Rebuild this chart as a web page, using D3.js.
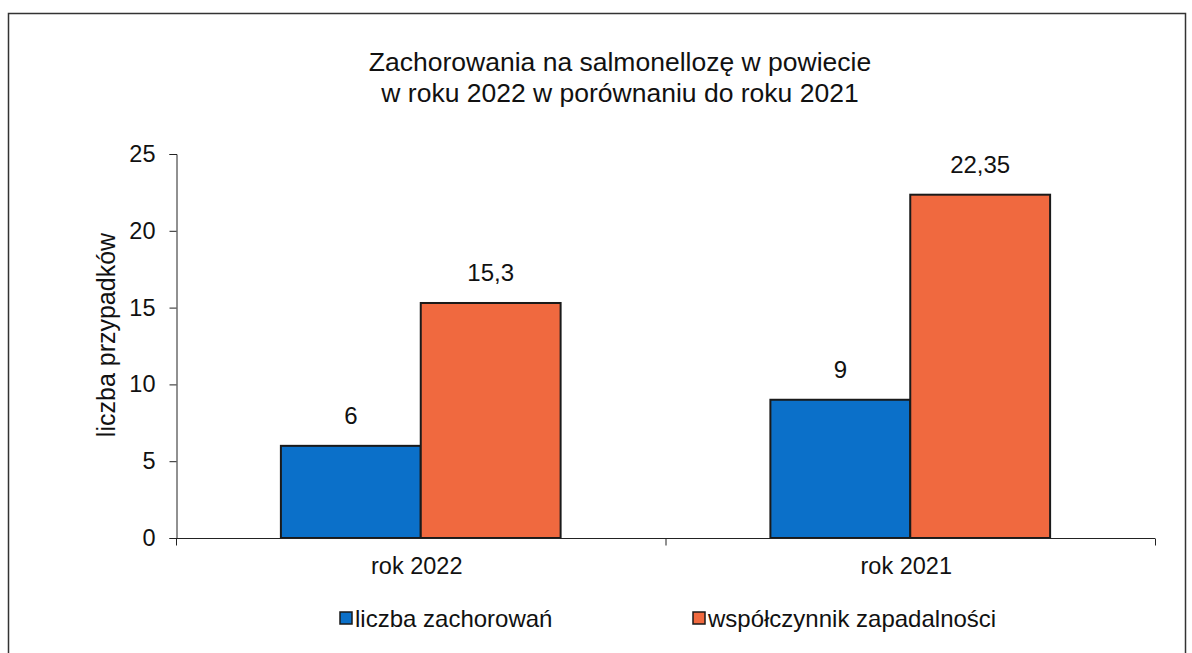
<!DOCTYPE html>
<html>
<head>
<meta charset="utf-8">
<script src="https://cdn.jsdelivr.net/npm/d3@7"></script>
<style>
  body { margin: 0; background: #fff; }
  svg { display: block; font-family: Arial, "Liberation Sans", sans-serif; }
</style>
</head>
<body>
<div id="graph"></div>
<script>
// data
const categories = ['rok 2022', 'rok 2021'];
const seriesNames = ['liczba zachorowań', 'współczynnik zapadalności'];
const cases = [6, 9];
const incidence = [15.3, 22.35];
const valueLabels = [['6', '15,3'], ['9', '22,35']];
const yTicks = [0, 5, 10, 15, 20, 25];
const colors = ['#0b70c9', '#f0693f'];

const W = 1192, H = 653;
const svg = d3.select('#graph').append('svg')
    .attr('width', W)
    .attr('height', H);

// frame
svg.append('rect')
    .attr('x', 8.5).attr('y', 13.5)
    .attr('width', 1177).attr('height', 700)
    .attr('fill', 'none')
    .attr('stroke', '#333')
    .attr('stroke-width', 1.5);

// title
const title = svg.append('text')
    .attr('text-anchor', 'middle')
    .attr('font-size', 26.5)
    .attr('fill', '#111');
title.append('tspan').attr('x', 620).attr('y', 71).text('Zachorowania na salmonellozę w powiecie');
title.append('tspan').attr('x', 620).attr('y', 102).text('w roku 2022 w porównaniu do roku 2021');

const x0 = d3.scaleBand().domain(categories).range([176, 1155]).paddingInner(0).paddingOuter(0);
const x1 = d3.scaleBand().domain(d3.range(seriesNames.length)).range([0, x0.bandwidth()]).paddingInner(0).paddingOuter(0.75);
const y = d3.scaleLinear().domain([0, 25]).range([538, 154]);

// y axis
const yAxis = svg.append('g')
    .attr('transform', 'translate(176.5,0)')
    .call(d3.axisLeft(y).tickValues(yTicks).tickSize(7).tickPadding(14));
yAxis.select('.domain').attr('stroke', '#222');
yAxis.selectAll('.tick line').attr('stroke', '#222');
yAxis.selectAll('.tick text')
    .attr('font-size', 23.5)
    .attr('fill', '#111')
    .attr('font-family', 'Arial, "Liberation Sans", sans-serif');

// y label
svg.append('text')
    .attr('transform', 'translate(115,335) rotate(-90)')
    .attr('text-anchor', 'middle')
    .attr('font-size', 25)
    .attr('fill', '#111')
    .text('liczba przypadków');

// bars
const rows = categories.map((c, i) => ({ cat: c, vals: [cases[i], incidence[i]], labels: valueLabels[i] }));
const groups = svg.selectAll('.grp')
    .data(rows)
    .enter().append('g')
    .attr('class', 'grp')
    .attr('transform', d => `translate(${x0(d.cat)},0)`);

groups.selectAll('rect')
    .data(d => d.vals.map((v, j) => ({ v, j })))
    .enter().append('rect')
    .attr('x', d => x1(d.j))
    .attr('y', d => y(d.v))
    .attr('width', x1.bandwidth())
    .attr('height', d => y(0) - y(d.v))
    .attr('fill', d => colors[d.j])
    .attr('stroke', '#1a1a1a')
    .attr('stroke-width', 2);

groups.selectAll('.val')
    .data(d => d.vals.map((v, j) => ({ v, j, t: d.labels[j] })))
    .enter().append('text')
    .attr('class', 'val')
    .attr('x', d => x1(d.j) + x1.bandwidth() / 2)
    .attr('y', d => y(d.v) - 22)
    .attr('text-anchor', 'middle')
    .attr('font-size', 24)
    .attr('fill', '#111')
    .text(d => d.t);

// x axis
const xAxis = svg.append('g')
    .attr('transform', 'translate(0,538.5)');
xAxis.append('line')
    .attr('x1', 176).attr('x2', 1155)
    .attr('stroke', '#222');
xAxis.selectAll('.xt')
    .data([x0.range()[0], x0(categories[1]), x0.range()[1]])
    .enter().append('line')
    .attr('x1', d => d + 0.5).attr('x2', d => d + 0.5)
    .attr('y1', 0).attr('y2', 7)
    .attr('stroke', '#222');
xAxis.selectAll('.xl')
    .data(categories)
    .enter().append('text')
    .attr('x', d => x0(d) + x0.bandwidth() / 2 - 4)
    .attr('y', 35)
    .attr('text-anchor', 'middle')
    .attr('font-size', 23.5)
    .attr('fill', '#111')
    .text(d => d);

// legend
const legendX = [340, 693];
const legend = svg.selectAll('.lg')
    .data(seriesNames)
    .enter().append('g')
    .attr('transform', (d, i) => `translate(${legendX[i]},618)`);
legend.append('rect')
    .attr('x', 0).attr('y', -6)
    .attr('width', 12).attr('height', 12)
    .attr('fill', (d, i) => colors[i])
    .attr('stroke', '#1a1a1a')
    .attr('stroke-width', 1.5);
legend.append('text')
    .attr('x', 15)
    .attr('y', 8.5)
    .attr('font-size', 24)
    .attr('fill', '#111')
    .text(d => d);
</script>
</body>
</html>
